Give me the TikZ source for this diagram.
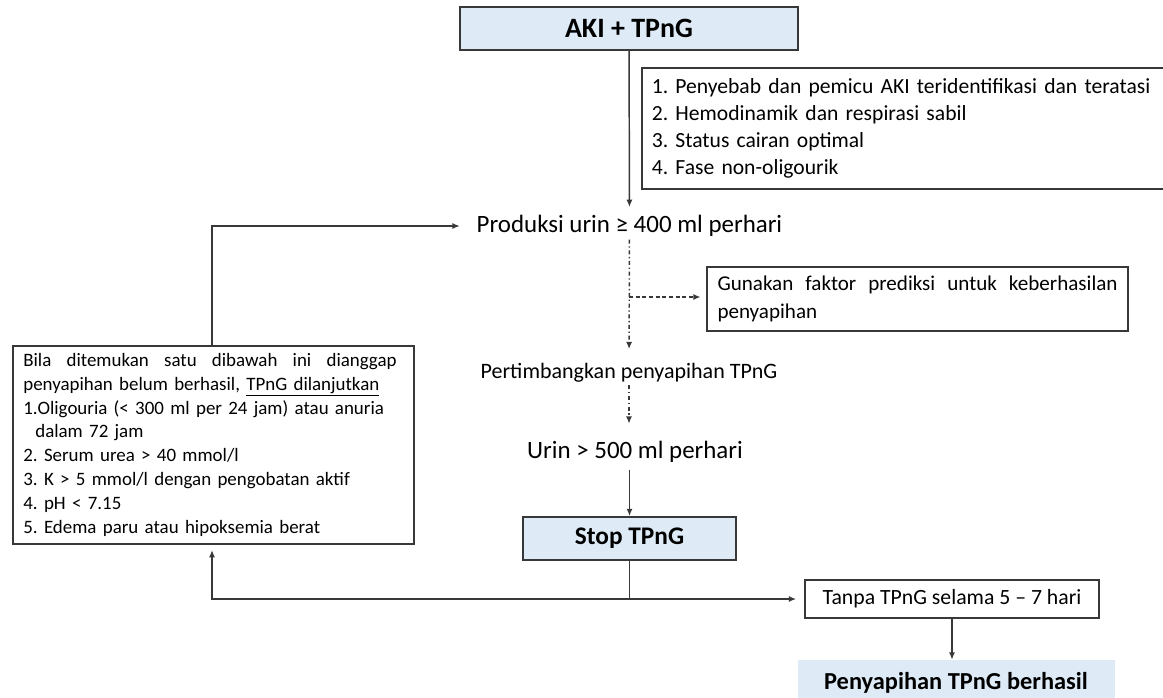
\documentclass[tikz,border=0pt]{standalone}
\usepackage{fontspec}
\setmainfont{Carlito}
\frenchspacing
\usetikzlibrary{arrows.meta,positioning,calc}
\definecolor{boxblue}{HTML}{DEEBF7}
\definecolor{garis}{HTML}{383838}

\begin{document}
\begin{tikzpicture}[x=0.75pt,y=-0.75pt,
  kotakbiru/.style={rectangle, draw=garis, line width=1.3pt, fill=boxblue, align=center, font=\fontsize{19}{22}\selectfont\bfseries},
  kotak/.style={rectangle, draw=garis, line width=1.25pt, inner xsep=7.5pt},
  teks/.style={inner sep=2pt, font=\fontsize{18.7}{22}\selectfont},
  arr/.style={-{Latex[length=5.5pt,width=4.5pt]}, line width=1.1pt, garis},
  titik/.style={arr, dash pattern=on 3pt off 2pt on 1pt off 2pt},
  putus/.style={arr, dash pattern=on 3pt off 2pt}
]
  \useasboundingbox (0,0) rectangle (1163,697);
  \node[kotakbiru, minimum width=253.5pt, minimum height=32.25pt, font=\fontsize{21}{24}\selectfont\bfseries] (aki) at (629,28.5) {AKI + TPnG};
  \node[kotak, anchor=north west, minimum width=400pt, minimum height=90.75pt, text width=385pt, align=left,
    font=\fontsize{16.2}{20.3}\selectfont] (kriteria) at (641,67)
    {1. Penyebab dan pemicu AKI teridentifikasi dan teratasi\\2. Hemodinamik dan respirasi sabil\\3. Status cairan optimal\\4. Fase non-oligourik};
  \node[teks] (produksi) at (629.5,226) {Produksi urin ≥ 400 ml perhari};
  \node[kotak, anchor=north west, minimum width=315.75pt, minimum height=48pt, text width=300pt, align=left,
    inner xsep=8pt, font=\fontsize{15.8}{21}\selectfont] (prediksi) at (706,266)
    {\makebox[300pt][l]{Gunakan\hfill faktor\hfill prediksi\hfill untuk\hfill keberhasilan}\\penyapihan};
  \node[teks, font=\fontsize{16.5}{20}\selectfont] (pertimbangkan) at (629,373) {Pertimbangkan penyapihan TPnG};
  \node[teks] (urin) at (635,452) {Urin > 500 ml perhari};
  \node[kotakbiru, minimum width=159.75pt, minimum height=32.25pt] (stop) at (629.5,538.5) {Stop TPnG};
  \node[kotak, anchor=north west, minimum width=300.75pt, minimum height=148.5pt, text width=285pt, align=left,
    font=\fontsize{14.2}{17.9}\selectfont] (gagal) at (12,345)
    {\makebox[280pt][l]{Bila\hfill ditemukan\hfill satu\hfill dibawah\hfill ini\hfill dianggap}\\
     penyapihan belum berhasil, \underline{TPnG dilanjutkan}\\
     1.Oligouria (< 300 ml per 24 jam) atau anuria\\
     \hspace*{9pt}dalam 72 jam\\
     2. Serum urea > 40 mmol/l\\
     3. K > 5 mmol/l dengan pengobatan aktif\\
     4. pH < 7.15\\
     5. Edema paru atau hipoksemia berat};
  \node[kotak, minimum width=220.5pt, minimum height=28.5pt, font=\fontsize{16.3}{19}\selectfont] (tanpa) at (952,599)
    {Tanpa TPnG selama 5 – 7 hari};
  \node[rectangle, fill=boxblue, minimum width=237.75pt, minimum height=34.5pt, font=\fontsize{18.3}{21}\selectfont\bfseries] (berhasil) at (956,683)
    {Penyapihan TPnG berhasil};
  \coordinate (kiri) at (212,0);
  \coordinate (simpul) at (629,297);
  \coordinate (cabang) at (629.5,599);
  \draw[arr, shorten >=4pt] (aki) -- (produksi);
  \draw[titik, shorten >=8.5pt] (produksi) -- (pertimbangkan);
  \draw[putus, shorten >=4pt] (simpul) -- (prediksi.west |- simpul);
  \draw[titik, shorten >=11pt] (pertimbangkan) -- (urin.north -| pertimbangkan);
  \draw[arr, shorten <=3pt] (urin.south -| stop) -- (stop);
  \draw[arr, shorten >=10.5pt] (gagal.north -| kiri) |- (produksi.west);
  \draw[arr, shorten >=4pt] (stop) -- (cabang) -| (gagal.south -| kiri);
  \draw[arr, shorten >=6pt] (cabang) -- (tanpa.west);
  \draw[arr] (tanpa) -- (tanpa |- berhasil.north);
\end{tikzpicture}
\end{document}
